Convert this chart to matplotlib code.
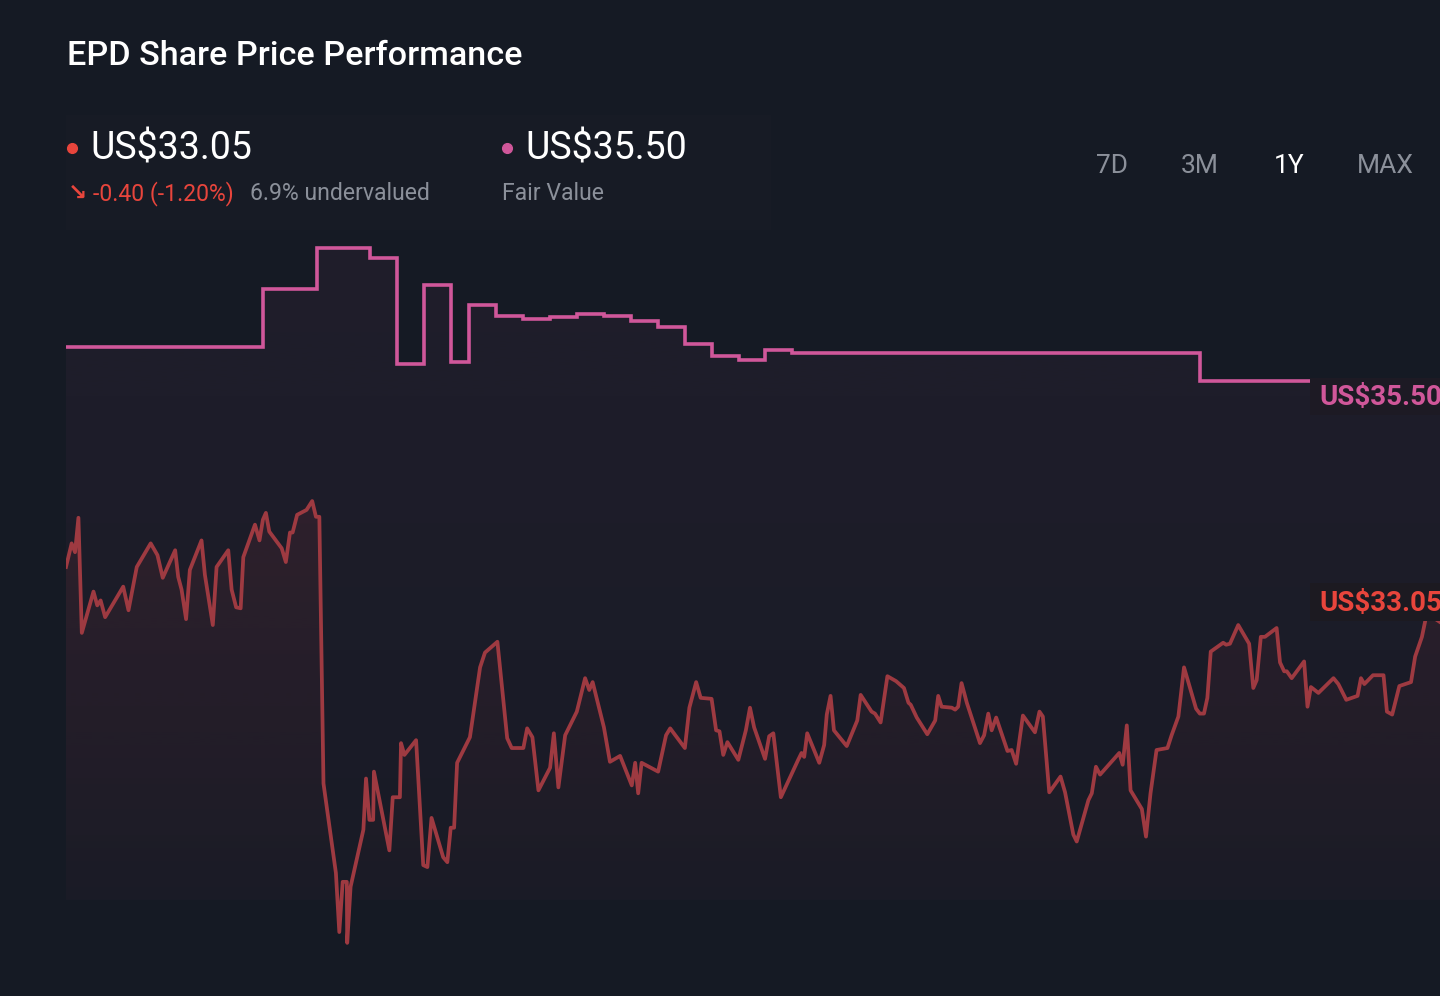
import numpy as np
import matplotlib
matplotlib.use('Agg')
import matplotlib.pyplot as plt
from matplotlib.patches import Rectangle, PathPatch
from matplotlib.path import Path
from matplotlib.lines import Line2D

# Config
name_company = 'EPD'
bg = '#151a24'
price_color = '#9e3a41'
fv_color = '#d0579a'
red_text = '#e8453c'
grey_text = '#8b909a'

# Share price, days since start of the 1Y window
price_days = [0, 1.5, 2.4, 3.3, 4.2, 7.3, 8.3, 9.2, 10.4, 15.2, 16.6, 18.8, 22.5, 24.3, 25.7,
              29.0, 29.8, 30.7, 31.9, 32.9, 36.0, 36.9, 39.0, 40.0, 43.1, 44.0, 45.2, 46.4,
              47.1, 50.2, 51.4, 52.3, 53.1, 54.0, 57.3, 58.4, 59.5, 60.2, 61.4, 63.9, 65.4,
              66.4, 67.3, 68.4, 71.7, 72.6, 73.5, 74.6, 74.7, 75.6, 79.0, 79.7, 80.6, 81.6,
              81.8, 85.9, 86.8, 88.7, 89.0, 89.9, 93.0, 94.9, 96.0, 97.1, 100.2, 101.3,
              102.2, 103.1, 103.9, 107.3, 110.0, 111.3, 114.6, 117.2, 118.4, 121.5, 122.5,
              123.9, 125.5, 128.6, 129.6, 130.8, 132.6, 135.7, 137.9, 139.0, 139.9, 142.9,
              144.5, 147.2, 150.3, 151.2, 152.0, 152.9, 157.3, 159.4, 160.5, 164.4, 165.6,
              167.4, 168.6, 171.5, 172.7, 173.6, 174.6, 175.7, 178.6, 180.6, 181.7, 182.8,
              185.7, 186.8, 187.9, 189.9, 194.5, 195.4, 196.1, 196.9, 200.1, 201.4, 202.1,
              203.1, 204.0, 207.4, 210.2, 211.1, 214.0, 214.9, 216.4, 218.2, 220.5, 222.6,
              223.8, 224.4, 226.0, 228.8, 230.9, 231.7, 232.6, 235.3, 236.2, 237.0, 237.9,
              239.3, 242.8, 243.9, 245.0, 245.9, 247.1, 250.1, 251.2, 252.4, 254.2, 257.4,
              258.6, 259.5, 261.2, 264.2, 265.4, 267.6, 268.5, 271.6, 272.5, 273.6, 274.7,
              279.8, 280.7, 281.8, 282.8, 285.8, 286.9, 288.1, 289.7, 292.6, 293.7, 295.5,
              297.0, 300.2, 301.2, 302.3, 303.2, 304.1, 307.4, 308.2, 309.2, 311.4, 314.3,
              315.4, 316.3, 317.4, 318.5, 321.6, 322.5, 323.6, 324.3, 325.6, 328.9, 329.8,
              330.7, 332.7, 336.7, 338.0, 340.1, 343.1, 344.0, 344.9, 347.2, 350.0, 350.9,
              352.3, 354.2, 357.3, 358.4, 360.2, 361.5, 365.0]
price_values = [33.61, 33.85, 33.76, 34.11, 32.94, 33.36, 33.22, 33.27, 33.10, 33.41, 33.17,
                33.61, 33.85, 33.73, 33.50, 33.78, 33.51, 33.38, 33.08, 33.58, 33.88, 33.53,
                33.02, 33.61, 33.78, 33.38, 33.20, 33.19, 33.71, 34.04, 33.88, 34.09, 34.16,
                33.97, 33.80, 33.66, 33.96, 33.96, 34.14, 34.19, 34.28, 34.12, 34.12, 31.41,
                30.50, 29.90, 30.41, 30.41, 29.79, 30.36, 30.94, 31.46, 31.04, 31.04, 31.53,
                30.73, 31.27, 31.27, 31.82, 31.70, 31.85, 30.58, 30.56, 31.06, 30.66, 30.61,
                30.96, 30.96, 31.62, 31.88, 32.59, 32.74, 32.85, 31.87, 31.77, 31.77, 31.97,
                31.88, 31.34, 31.57, 31.92, 31.37, 31.90, 32.14, 32.48, 32.36, 32.44, 31.98,
                31.63, 31.69, 31.39, 31.62, 31.31, 31.62, 31.53, 31.90, 31.97, 31.77, 32.18,
                32.44, 32.28, 32.27, 31.95, 31.94, 31.70, 31.83, 31.65, 31.95, 32.18, 31.98,
                31.66, 31.89, 31.92, 31.27, 31.65, 31.72, 31.68, 31.92, 31.62, 31.80, 32.11,
                32.30, 31.95, 31.79, 32.05, 32.31, 32.14, 32.12, 32.03, 32.50, 32.45, 32.38,
                32.23, 32.21, 32.08, 31.91, 32.05, 32.30, 32.19, 32.18, 32.16, 32.19, 32.43,
                32.23, 31.82, 31.90, 32.12, 31.95, 32.08, 31.74, 31.75, 31.61, 32.10, 31.93,
                32.14, 32.09, 31.32, 31.48, 31.32, 30.89, 30.82, 31.24, 31.31, 31.58, 31.50,
                31.72, 31.60, 32.00, 31.34, 31.15, 30.87, 31.31, 31.75, 31.77, 31.90, 32.09,
                32.59, 32.17, 32.12, 32.12, 32.28, 32.75, 32.84, 32.82, 32.83, 33.02, 32.83,
                32.38, 32.46, 32.90, 32.90, 32.99, 32.64, 32.55, 32.55, 32.48, 32.65, 32.19,
                32.39, 32.33, 32.48, 32.42, 32.26, 32.30, 32.48, 32.42, 32.51, 32.51, 32.14,
                32.11, 32.40, 32.44, 32.70, 32.90, 33.14, 33.05]

# Fair value estimate (step changes)
fv_days = [0, 52.3, 66.7, 80.8, 87.9, 95.1, 102.3, 107.1, 114.2, 121.4, 128.6, 135.7, 142.9,
           150.1, 157.3, 164.4, 171.6, 178.8, 185.7, 192.9, 301.2, 330.5]
fv_values = [35.85, 36.43, 36.85, 36.75, 35.67, 36.48, 35.69, 36.27, 36.16, 36.13, 36.15,
             36.18, 36.16, 36.11, 36.05, 35.88, 35.75, 35.71, 35.81, 35.78, 35.50, 35.50]

last_price = 'US$33.05'
fair_value = 'US$35.50'
ranges = ['7D', '3M', '1Y', 'MAX']

plt.rcParams['font.family'] = ['Roboto', 'DejaVu Sans']

fig = plt.figure(figsize=(14.4, 9.96), dpi=100, facecolor=bg)
ax = fig.add_axes([66 / 1440, 0, 1374 / 1440, 1])
ax.set_facecolor('none')
ax.set_xlim(0, 365)
ax.set_ylim(29.25, 39.372)
ax.axis('off')

base = 30.23


def grad_fill(x, y, color, a_top, a_bot, step=None):
    poly = ax.fill_between(x, y, base, step=step, facecolor='none', edgecolor='none', lw=0)
    path = Path.make_compound_path(*poly.get_paths())
    clip = PathPatch(path, transform=ax.transData, facecolor='none', edgecolor='none')
    ax.add_patch(clip)
    rgb = matplotlib.colors.to_rgb(color)
    n = 200
    arr = np.zeros((n, 1, 4))
    arr[:, 0, :3] = rgb
    arr[:, 0, 3] = np.linspace(a_top, a_bot, n)
    im = ax.imshow(arr, extent=[min(x), max(x), base, max(y)], aspect='auto',
                   interpolation='bilinear', zorder=1)
    im.set_clip_path(clip)


# fair value shading runs on under the tag to the right edge
grad_fill(fv_days + [365], fv_values + fv_values[-1:], fv_color, 0.06, 0.02, step='post')
grad_fill(price_days, price_values, price_color, 0.14, 0.02)

ax.plot(fv_days, fv_values, drawstyle='steps-post', color=fv_color, linewidth=2.6, zorder=3,
        solid_joinstyle='miter')
ax.plot(price_days, price_values, color=price_color, linewidth=2.7, zorder=3)
ax.set_xlim(0, 365)
ax.set_ylim(29.25, 39.372)


def fy(px):
    return 1 - px / 996


def fx(px):
    return px / 1440


# header panel
fig.patches.append(Rectangle((fx(66), fy(230)), fx(705), 115 / 996, transform=fig.transFigure,
                             facecolor='#1a1c27', edgecolor='none', alpha=0.6, zorder=0))

fig.text(fx(67), fy(56), f'{name_company} Share Price Performance', color='white',
         fontsize=24.6, weight='medium', va='center', ha='left')

fig.add_artist(Line2D([fx(72)], [fy(148)], marker='o', markersize=7, color=red_text,
                      transform=fig.transFigure))
fig.text(fx(90), fy(149), last_price, color='white', fontsize=27, va='center', ha='left')
fig.text(fx(68), fy(193), '↘', color=red_text, fontsize=16.5, va='center', ha='left',
         family=['DejaVu Sans'], weight='bold')
fig.text(fx(93), fy(194), '-0.40 (-1.20%)', color=red_text, fontsize=16.6, va='center',
         ha='left')
fig.text(fx(250), fy(194), '6.9% undervalued', color=grey_text, fontsize=16.6, va='center',
         ha='left')

fig.add_artist(Line2D([fx(507)], [fy(148)], marker='o', markersize=7, color=fv_color,
                      transform=fig.transFigure))
fig.text(fx(525), fy(149), fair_value, color='white', fontsize=27, va='center', ha='left')
fig.text(fx(502), fy(194), 'Fair Value', color=grey_text, fontsize=16.6, va='center', ha='left')

for label, xc in zip(ranges, [1112, 1200, 1289, 1385]):
    fig.text(fx(xc), fy(166), label, color='white' if label == '1Y' else grey_text,
             fontsize=19, va='center', ha='center')

# value tags at the right edge
fig.patches.append(Rectangle((fx(1310), fy(415)), fx(130), 37 / 996, transform=fig.transFigure,
                             facecolor='#1d1a24', edgecolor='none', zorder=4))
fig.text(fx(1319), fy(398), fair_value, color=fv_color, fontsize=20, weight='bold',
         va='center', ha='left', zorder=5)
fig.patches.append(Rectangle((fx(1310), fy(621)), fx(130), 38 / 996, transform=fig.transFigure,
                             facecolor='#1c1a21', edgecolor='none', zorder=4))
fig.text(fx(1319), fy(603), last_price, color=red_text, fontsize=20, weight='bold',
         va='center', ha='left', zorder=5)

fig.savefig('out.png', dpi=100, facecolor=bg)
